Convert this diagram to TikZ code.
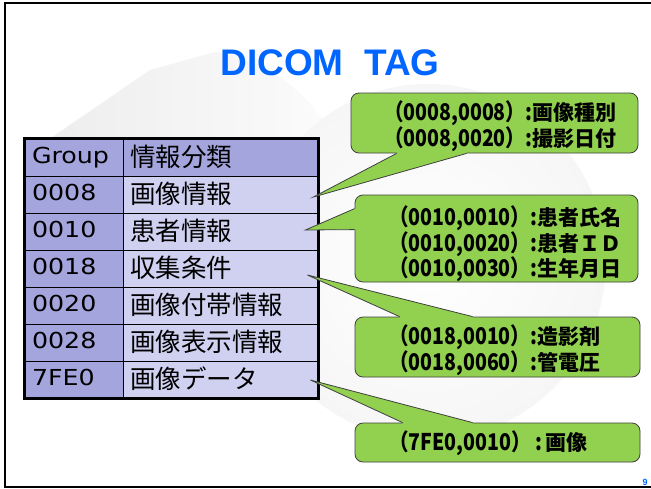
\documentclass[tikz,border=0pt]{standalone}
\usepackage{fontspec}
\setmainfont{Liberation Sans}
\newfontfamily\jpfont{Noto Sans CJK JP}
\newfontfamily\tagfont[FakeStretch=0.85]{Noto Sans CJK JP}
\newfontfamily\grpfont[FakeStretch=1.15]{DejaVu Sans}
\usetikzlibrary{calc}

\definecolor{titleblue}{RGB}{0,102,255}
\definecolor{hdrblue}{RGB}{165,165,222}
\definecolor{bodyblue}{RGB}{208,208,240}
\definecolor{bubblegreen}{RGB}{146,208,80}
\definecolor{bubbleline}{RGB}{64,64,64}

% fixed strut so every table row shares one baseline position
\newcommand\cellstrut{\rule[-4pt]{0pt}{20pt}}
% one tag line: condensed number part, then the name
\newcommand\tagline[2]{{\tagfont\fontsize{23}{26}\selectfont #1}{\fontsize{21}{26}\selectfont #2}}

\begin{document}
\begin{tikzpicture}[x=1pt,y=-1pt,
  cellL/.style={draw=black, line width=0.8pt, fill=hdrblue, minimum height=37pt,
    text width=84pt, inner xsep=7pt, inner ysep=0pt, align=left,
    font=\grpfont\fontsize{22}{26}\selectfont},
  cellR/.style={draw=black, line width=0.8pt, fill=bodyblue, minimum height=37pt,
    text width=181pt, inner xsep=7pt, inner ysep=0pt, align=left,
    font=\jpfont\fontsize{25.5}{28}\selectfont},
  bubble/.style={draw=bubbleline, line width=0.8pt, fill=bubblegreen,
    rounded corners=8pt, inner sep=0pt},
  bubbletext/.style={anchor=west, align=left, inner sep=0pt,
    font=\jpfont\bfseries\fontsize{21}{25.5}\selectfont},
  stemline/.style={draw=bubbleline, line width=0.8pt, line join=miter}
]
\useasboundingbox (0,0) rectangle (651,488);
\fill[white] (0,0) rectangle (651,488);

% faint backdrop artwork
\shade[left color=gray!14, right color=gray!3] (48,140) -- (150,70) -- (215,52)
  .. controls (260,58) and (300,85) .. (326,125) -- (326,140) -- cycle;
\shade[inner color=white, outer color=gray!7] (428,262) circle (178pt);

% slide frame
\draw[line width=2.5pt] (5,488) -- (5,3) -- (651,3);
\draw[line width=1.5pt] (5,487) -- (651,487);

% title
\node[font=\fontsize{37}{40}\selectfont\bfseries, text=titleblue] (title) at (330,63) {DICOM\ \ TAG};

% group table
\node[cellL] (g0) at (74,157.5) {\cellstrut Group};
\node[cellR, fill=hdrblue] (n0) at (220.5,157.5) {\cellstrut 情報分類};
\node[cellL] (g1) at (74,194.5) {\cellstrut 0008};
\node[cellR] (n1) at (220.5,194.5) {\cellstrut 画像情報};
\node[cellL] (g2) at (74,231.5) {\cellstrut 0010};
\node[cellR] (n2) at (220.5,231.5) {\cellstrut 患者情報};
\node[cellL] (g3) at (74,268.5) {\cellstrut 0018};
\node[cellR] (n3) at (220.5,268.5) {\cellstrut 収集条件};
\node[cellL] (g4) at (74,305.5) {\cellstrut 0020};
\node[cellR] (n4) at (220.5,305.5) {\cellstrut 画像付帯情報};
\node[cellL] (g5) at (74,342.5) {\cellstrut 0028};
\node[cellR] (n5) at (220.5,342.5) {\cellstrut 画像表示情報};
\node[cellL] (g6) at (74,379.5) {\cellstrut 7FE0};
\node[cellR] (n6) at (220.5,379.5) {\cellstrut 画像データ};
\draw[line width=3pt] (g0.north west) rectangle (n6.south east);

% callout boxes
\node[bubble, minimum width=287pt, minimum height=60pt] (c1) at (494.5,123) {};
\node[bubble, minimum width=283pt, minimum height=87pt] (c2) at (496.5,238.5) {};
\node[bubble, minimum width=285pt, minimum height=60pt] (c3) at (497.5,347) {};
\node[bubble, minimum width=285pt, minimum height=39pt] (c4) at (497.5,442.5) {};

% callout pointers, tips resting inside the table cells
\coordinate (t1) at ($(n1.east)+(-5,2.5)$);
\coordinate (t2) at ($(n2.east)+(-13,-1.5)$);
\coordinate (t3) at ($(n3.east)+(-11,6.5)$);
\coordinate (t4) at ($(n6.east)+(-8,0.5)$);

\fill[bubblegreen] ($(c1.south west)+(46,-3)$) -- ($(c1.south west)+(46,0)$) -- (t1)
  -- ($(c1.south west)+(116,0)$) -- ($(c1.south west)+(116,-3)$) -- cycle;
\draw[stemline] ($(c1.south west)+(46,0)$) -- (t1) -- ($(c1.south west)+(116,0)$);

\fill[bubblegreen] ($(c2.north west)+(3,14)$) -- ($(c2.north west)+(0,14)$) -- (t2)
  -- ($(c2.north west)+(0,35)$) -- ($(c2.north west)+(3,35)$) -- cycle;
\draw[stemline] ($(c2.north west)+(0,14)$) -- (t2) -- ($(c2.north west)+(0,35)$);

\fill[bubblegreen] ($(c3.north west)+(45,3)$) -- ($(c3.north west)+(45,0)$) -- (t3)
  -- ($(c3.north west)+(118,0)$) -- ($(c3.north west)+(118,3)$) -- cycle;
\draw[stemline] ($(c3.north west)+(45,0)$) -- (t3) -- ($(c3.north west)+(118,0)$);

\fill[bubblegreen] ($(c4.north west)+(48,3)$) -- ($(c4.north west)+(48,0)$) -- (t4)
  -- ($(c4.north west)+(118,0)$) -- ($(c4.north west)+(118,3)$) -- cycle;
\draw[stemline] ($(c4.north west)+(48,0)$) -- (t4) -- ($(c4.north west)+(118,0)$);

% callout texts
\node[bubbletext] (d1) at (384,126) {\tagline{（0008,0008）:}{画像種別}\\\tagline{（0008,0020）:}{撮影日付}};
\node[bubbletext] (d2) at (389,244) {\tagline{（0010,0010）:}{患者氏名}\\\tagline{（0010,0020）:}{患者ＩＤ}\\\tagline{（0010,0030）:}{生年月日}};
\node[bubbletext] (d3) at (389,350) {\tagline{（0018,0010）:}{造影剤}\\\tagline{（0018,0060）:}{管電圧}};
\node[bubbletext] (d4) at (389,443) {\tagline{（7FE0,0010）\ :\,}{画像}};

% page number
\node[font=\fontsize{9}{9}\selectfont\bfseries, text=titleblue, inner sep=0pt] (pg) at (645,482) {9};
\end{tikzpicture}
\end{document}
